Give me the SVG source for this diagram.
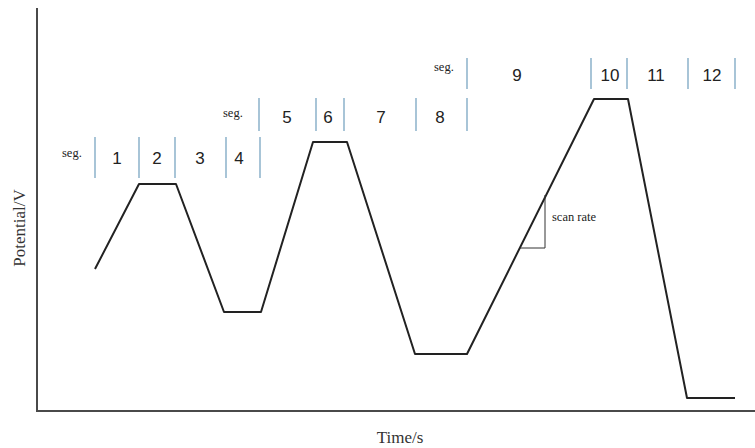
<svg xmlns="http://www.w3.org/2000/svg" width="755" height="448" viewBox="0 0 755 448">
<style>
.axis{stroke:#4a4a4a;stroke-width:2;fill:none}
.wave{stroke:#222;stroke-width:2;fill:none;stroke-linejoin:round}
.tick{stroke:#7aa6c2;stroke-width:1.3}
.seg{font-family:"Liberation Serif",serif;font-size:12.5px;fill:#222}
.num{font-family:"Liberation Sans",Arial,sans-serif;font-size:17px;fill:#222;text-anchor:middle}
.lab{font-family:"Liberation Serif",serif;font-size:17px;fill:#333;text-anchor:middle}
</style>
<rect width="755" height="448" fill="#fff"/>
<g id="axes">
<path class="axis" d="M37 8 V411 H755"/>
<text class="lab" x="400" y="443" font-size="18px">Time/s</text>
<text class="lab" transform="translate(25 228) rotate(-90)">Potential/V</text>
</g>
<g id="connectors">
<path class="wave" d="M95 269 L139 184 L176 184 L224 312 L261 312 L313 142 L347 142 L415 354 L467 354 L594 99 L628 99 L687 398 L735 398"/>
<path d="M545 195 V248 H520" stroke="#333" stroke-width="1" fill="none"/>
</g>
<g id="scanrate">
<text class="seg" x="552" y="221" font-size="14.5px">scan rate</text>
</g>
<g id="seg-group-1">
<text class="seg" x="62" y="157">seg.</text>
<path class="tick" d="M95 137 V178 M139 137 V178 M175 137 V178 M226 137 V178 M260 137 V178"/>
<text class="num" x="117" y="164">1</text>
<text class="num" x="157" y="164">2</text>
<text class="num" x="200" y="164">3</text>
<text class="num" x="239" y="164">4</text>
</g>
<g id="seg-group-2">
<text class="seg" x="223" y="117">seg.</text>
<path class="tick" d="M259 98 V131 M316 98 V131 M344 98 V131 M416 98 V131 M467 98 V131"/>
<text class="num" x="287" y="123">5</text>
<text class="num" x="328" y="123">6</text>
<text class="num" x="381" y="123">7</text>
<text class="num" x="440" y="123">8</text>
</g>
<g id="seg-group-3">
<text class="seg" x="434" y="71">seg.</text>
<path class="tick" d="M467 58 V89 M591 58 V89 M627 58 V89 M688 58 V89 M735 58 V89"/>
<text class="num" x="517" y="81">9</text>
<text class="num" x="610" y="81">10</text>
<text class="num" x="656" y="81">11</text>
<text class="num" x="712" y="81">12</text>
</g>
</svg>
